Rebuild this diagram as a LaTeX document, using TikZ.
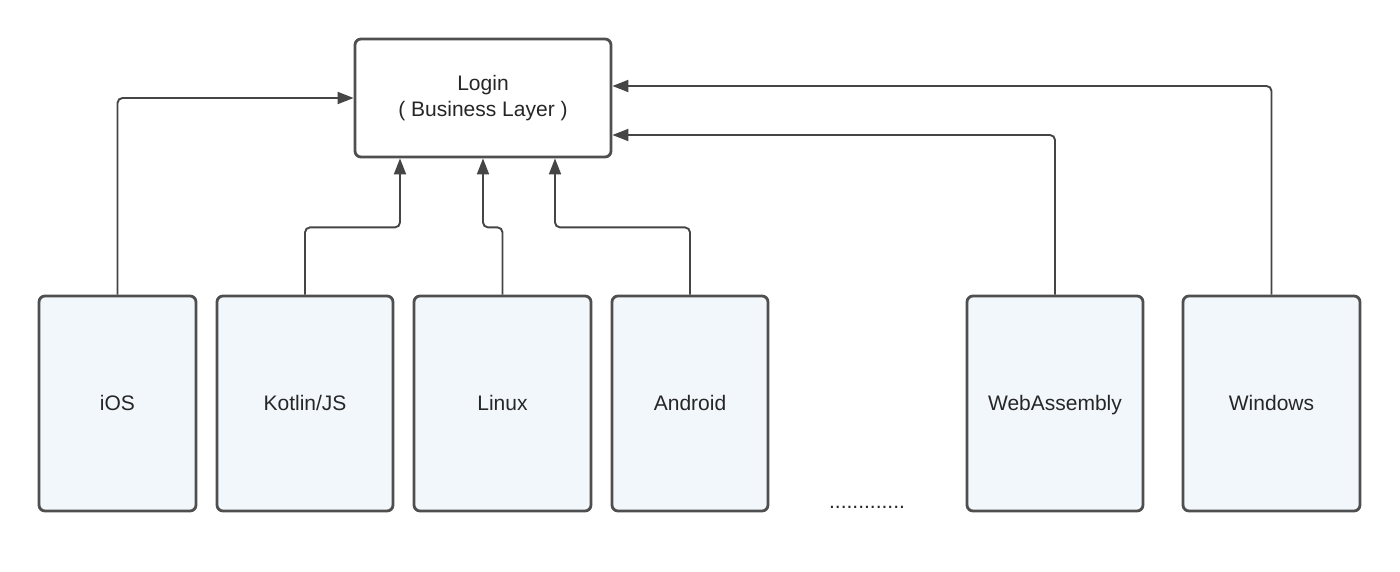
\documentclass[tikz,border=0pt]{standalone}
\usepackage{fontspec}
\setmainfont{Liberation Sans}
\usepackage{xcolor}
\usetikzlibrary{arrows.meta,calc}

\definecolor{boxline}{HTML}{4F4F4F}
\definecolor{boxfill}{HTML}{F2F7FC}
\definecolor{wire}{HTML}{454545}

\begin{document}
\begin{tikzpicture}[x=1pt, y=-1pt,
		every node/.style={font=\fontsize{21}{26}\selectfont, text=black!85},
		layer/.style={draw=boxline, line width=2.8pt, rounded corners=6pt, fill=white, minimum width=256pt, minimum height=118pt, align=center},
		platform/.style={draw=boxline, line width=2.8pt, rounded corners=6pt, fill=boxfill, minimum height=215pt, text height=15pt, text depth=1pt},
		link/.style={draw=wire, line width=1.9pt, rounded corners=5pt, -{Triangle[length=16pt, width=12pt]}}]
		\useasboundingbox (0,0) rectangle (1400,572);
		% business layer on top
		\node[layer] (login) at (483,98) {Login \\ ( Business Layer )};
		% platforms
		\node[platform, minimum width=157pt] (ios) at (117.5,403.5) {iOS};
		\node[platform, minimum width=176pt] (kotlin) at (305,403.5) {Kotlin/JS};
		\node[platform, minimum width=177pt] (linux) at (502.5,403.5) {Linux};
		\node[platform, minimum width=156pt] (android) at (690,403.5) {Android};
		\node[platform, minimum width=176pt] (wasm) at (1055,403.5) {WebAssembly};
		\node[platform, minimum width=177pt] (windows) at (1271.5,403.5) {Windows};
		\node[anchor=base] (dots) at (867,508) {.............};
		% connectors
		\draw[link] (ios.north) |- (login.west);
		\draw[link] (kotlin.north) |- ($(login.south)+(-83,69)$) -- ($(login.south)+(-83,0)$);
		\draw[link] (linux.north) |- ($(login.south)+(0,69)$) -- (login.south);
		\draw[link] (android.north) |- ($(login.south)+(72,69)$) -- ($(login.south)+(72,0)$);
		\draw[link] (wasm.north) |- ($(login.east)+(0,37)$);
		\draw[link] (windows.north) |- ($(login.east)+(0,-12)$);
	\end{tikzpicture}
\end{document}
